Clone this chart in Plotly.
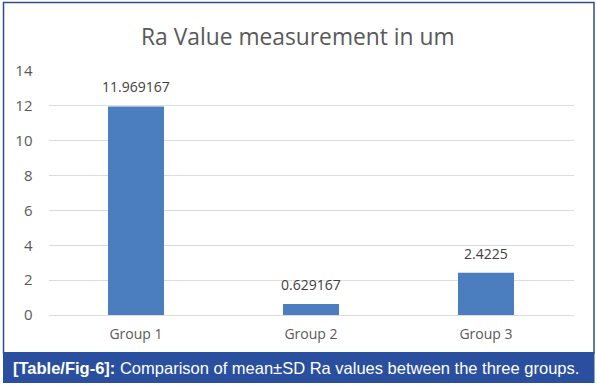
import plotly.graph_objects as go

categories = ["Group 1", "Group 2", "Group 3"]
values = [11.969167, 0.629167, 2.4225]
labels = ["11.969167", "0.629167", "2.4225"]
y_ticks = [0, 2, 4, 6, 8, 10, 12, 14]

W, H = 597, 389
fig = go.Figure(go.Bar(
    x=categories, y=values,
    marker=dict(color="#4a7ebf", line=dict(width=0)),
    hoverinfo="skip",
))

value_labels = [
    dict(x=c, y=v, text=t, xref="x", yref="y", showarrow=False,
         xanchor="center", yanchor="bottom", yshift=8,
         font=dict(family="Open Sans", size=14, color="#404040"))
    for c, v, t in zip(categories, values, labels)
]

fig.update_layout(
    width=W, height=H, margin=dict(l=0, r=0, t=0, b=0, autoexpand=False),
    paper_bgcolor="white", plot_bgcolor="white",
    bargap=0.68, showlegend=False,
    font=dict(family="Open Sans", color="#595959"),
    xaxis=dict(domain=[48.5 / W, 573.5 / W], showgrid=False, showline=False,
               ticks="", automargin=False, ticklabelstandoff=9,
               tickfont=dict(size=14, color="#595959")),
    yaxis=dict(domain=[(H - 315) / H, (H - 71) / H], range=[0, 14],
               tickvals=y_ticks, showgrid=True, gridcolor="#dcdcdc", gridwidth=1,
               zeroline=True, zerolinecolor="#dcdcdc", zerolinewidth=1,
               showline=False, ticks="", ticklabelstandoff=15, automargin=False,
               tickfont=dict(size=15, color="#595959")),
    shapes=[
        dict(type="rect", xref="paper", yref="paper",
             x0=3.5 / W, x1=594 / W, y0=(H - 353) / H, y1=(H - 2.5) / H,
             line=dict(color="#2f4f80", width=1.5), fillcolor="rgba(0,0,0,0)", layer="below"),
        dict(type="rect", xref="paper", yref="paper",
             x0=3 / W, x1=594.5 / W, y0=(H - 383) / H, y1=(H - 352) / H,
             line=dict(width=0), fillcolor="#2a4f9e", layer="above"),
    ],
    annotations=value_labels + [
        dict(text="Ra Value measurement in um", xref="paper", yref="paper",
             x=298 / W, y=(H - 36) / H, xanchor="center", yanchor="middle",
             showarrow=False, font=dict(family="Open Sans", size=22.8, color="#595959")),
        dict(text="<b>[Table/Fig-6]:</b> Comparison of mean±SD Ra values between the three groups.",
             xref="paper", yref="paper", x=11 / W, y=(H - 367.5) / H,
             xanchor="left", yanchor="middle", showarrow=False,
             font=dict(family="Liberation Sans", size=16.5, color="white")),
    ],
)

fig.write_html("out.html", config={"displayModeBar": False},
               post_script="document.body.style.margin='0px';")
